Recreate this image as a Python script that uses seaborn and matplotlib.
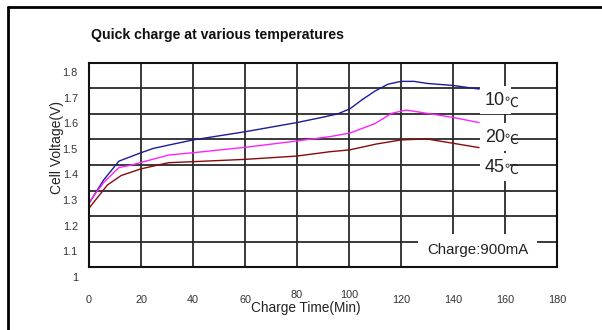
import matplotlib
matplotlib.use("Agg")
import matplotlib.pyplot as plt
from matplotlib import font_manager
from matplotlib.transforms import ScaledTranslation
from matplotlib.lines import Line2D
import seaborn as sns
import pandas as pd

# ---- data ----
t_10 = [0, 5.6, 11.5, 20, 24.8, 30.7, 40, 60, 80, 90, 95.7, 100.4, 105, 110, 115, 120, 125, 130, 140, 150]
v_10 = [1.250, 1.341, 1.415, 1.448, 1.465, 1.478, 1.498, 1.530, 1.566, 1.587, 1.600, 1.620, 1.655, 1.689, 1.716, 1.727, 1.727, 1.719, 1.711, 1.697]
t_20 = [0, 5.6, 11.5, 16, 20, 30.7, 40, 60, 80, 92.7, 100.4, 110, 116.4, 122, 130, 140, 150]
v_20 = [1.254, 1.331, 1.390, 1.399, 1.410, 1.439, 1.448, 1.469, 1.494, 1.511, 1.525, 1.562, 1.602, 1.615, 1.602, 1.586, 1.566]
t_45 = [0, 7.1, 12.4, 20, 30.6, 40, 60, 80, 92.7, 100.2, 110.5, 120, 129.8, 140, 150]
v_45 = [1.231, 1.322, 1.359, 1.385, 1.409, 1.413, 1.422, 1.435, 1.452, 1.459, 1.482, 1.498, 1.502, 1.485, 1.468]
series_names = ["10℃", "20℃", "45℃"]
series_colors = ["#1c1c96", "#ff22ff", "#8a0a0a"]
label_y = [1.654, 1.509, 1.392]
x_ticks = [0, 20, 40, 60, 80, 100, 120, 140, 160, 180]
y_ticks = [1, 1.1, 1.2, 1.3, 1.4, 1.5, 1.6, 1.7, 1.8]
y_tick_labels = ["1", "1.1", "1.2", "1.3", "1.4", "1.5", "1.6", "1.7", "1.8"]
title = "Quick charge at various temperatures"
x_label = "Charge Time(Min)"
y_label = "Cell Voltage(V)"
note = "Charge:900mA"

df = pd.concat([
    pd.DataFrame({"t": t_10, "v": v_10, "s": series_names[0]}),
    pd.DataFrame({"t": t_20, "v": v_20, "s": series_names[1]}),
    pd.DataFrame({"t": t_45, "v": v_45, "s": series_names[2]}),
])

sns.set_theme(style="white")
avail = {f.name for f in font_manager.fontManager.ttflist}
narrow = "Liberation Sans Narrow" if "Liberation Sans Narrow" in avail else "Liberation Sans"
plt.rcParams["font.family"] = [narrow, "DejaVu Sans"]

fig = plt.figure(figsize=(6.02, 3.30), dpi=100)
ax = fig.add_axes([89 / 602, 62.7 / 330, 468 / 602, 204.6 / 330])

for xv in x_ticks[1:-1]:
    ax.axvline(xv, color="#2a2a2a", lw=1.3, zorder=0.5)
for yv in y_ticks[1:-1]:
    ax.axhline(yv, color="#2a2a2a", lw=1.3, zorder=0.5)

sns.lineplot(data=df, x="t", y="v", hue="s", palette=dict(zip(series_names, series_colors)),
             sort=False, estimator=None, lw=1.0, legend=False, ax=ax, zorder=1.5)

ax.set_xlim(0, 180)
ax.set_ylim(1.0, 1.8)
ax.set_xticks(x_ticks)
ax.set_xticklabels([str(v) for v in x_ticks])
ax.set_yticks(y_ticks)
ax.set_yticklabels(y_tick_labels)
ax.tick_params(axis="both", length=0, labelsize=7.8, colors="#333333")
ax.tick_params(axis="x", pad=20)
ax.tick_params(axis="y", pad=8)
off = ScaledTranslation(0, -9.5 / 100, fig.dpi_scale_trans)
for lab in ax.get_yticklabels():
    lab.set_transform(lab.get_transform() + off)
up = ScaledTranslation(0, 5 / 100, fig.dpi_scale_trans)
for lab in ax.get_xticklabels():
    if lab.get_text() in ("80", "100"):
        lab.set_transform(lab.get_transform() + up)
ax.set_xlabel("")
ax.set_ylabel("")
for sp in ax.spines.values():
    sp.set_color("#111111")
    sp.set_linewidth(1.5)
    sp.set_zorder(3)

# temperature labels
for name, yv in zip(series_names, label_y):
    ax.text(152.3, yv, name[:-1], fontsize=13, color="#222222", va="center", ha="left",
            zorder=2,
            bbox=dict(boxstyle="square,pad=0.3", fc="white", ec="none"))
    ax.text(152.3 + 32 / 2.6 - 5.0, yv - 0.012, name[-1], fontsize=10, color="#222222", va="center", ha="left",
            family=["Noto Sans CJK SC", "DejaVu Sans"], zorder=2.1)

ax.text(149.5, 1.068, note, fontsize=10.8, color="#222222", va="center", ha="center", zorder=2,
        bbox=dict(boxstyle="square,pad=0.6", fc="white", ec="none"))

fig.text(91 / 602, 1 - 35 / 330, title, fontsize=10.2, fontweight="bold", va="center", ha="left", color="#111111")
fig.text(306 / 602, 1 - 308 / 330, x_label, fontsize=9.8, va="center", ha="center", color="#222222")
fig.text(57 / 602, 1 - 147 / 330, y_label, fontsize=10, va="center", ha="center", rotation=90, color="#222222")

# outer frame (top and left)
fig.add_artist(Line2D([8 / 602, 8 / 602], [0, 1 - 7 / 330], transform=fig.transFigure, color="black", lw=2))
fig.add_artist(Line2D([8 / 602, 1], [1 - 7 / 330, 1 - 7 / 330], transform=fig.transFigure, color="black", lw=2))

fig.savefig("out.png", dpi=100, facecolor="white")
